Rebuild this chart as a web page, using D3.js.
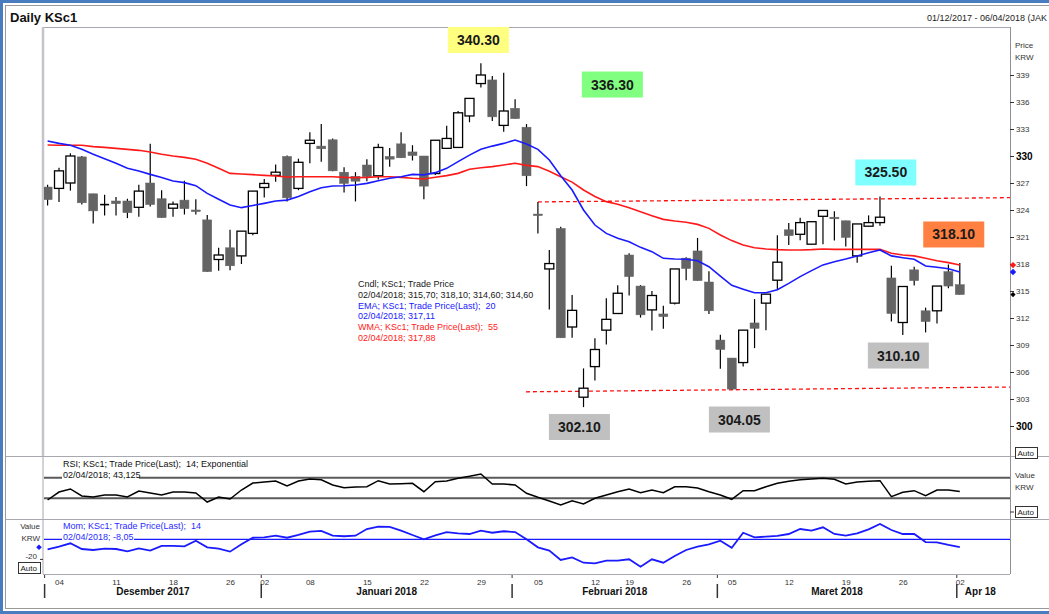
<!DOCTYPE html>
<html><head><meta charset="utf-8">
<script src="https://cdn.jsdelivr.net/npm/d3@7"></script>
<style>body{margin:0;background:#fff}svg{display:block;font-family:"Liberation Sans",Arial,sans-serif}svg text{white-space:pre}</style>
</head><body><svg id="c" width="1049" height="614"></svg>
<script>
// ---------- DATA ----------
const dates = [
"2017-12-01","2017-12-04","2017-12-05","2017-12-06","2017-12-07","2017-12-08","2017-12-11","2017-12-12","2017-12-13","2017-12-14","2017-12-15","2017-12-18","2017-12-19","2017-12-20","2017-12-21","2017-12-22","2017-12-26","2017-12-27","2017-12-28",
"2018-01-02","2018-01-03","2018-01-04","2018-01-05","2018-01-08","2018-01-09","2018-01-10","2018-01-11","2018-01-12","2018-01-15","2018-01-16","2018-01-17","2018-01-18","2018-01-19","2018-01-22","2018-01-23","2018-01-24","2018-01-25","2018-01-26","2018-01-29","2018-01-30","2018-01-31",
"2018-02-01","2018-02-02","2018-02-05","2018-02-06","2018-02-07","2018-02-08","2018-02-09","2018-02-12","2018-02-13","2018-02-14","2018-02-19","2018-02-20","2018-02-21","2018-02-22","2018-02-23","2018-02-26","2018-02-27","2018-02-28",
"2018-03-02","2018-03-05","2018-03-06","2018-03-07","2018-03-08","2018-03-09","2018-03-12","2018-03-13","2018-03-14","2018-03-15","2018-03-16","2018-03-19","2018-03-20","2018-03-21","2018-03-22","2018-03-23","2018-03-26","2018-03-27","2018-03-28","2018-03-29","2018-03-30",
"2018-04-02"];
const open = [326.55,326.4,327.0,329.9,325.8,324.62,325.0,325.0,324.3,327.0,325.25,324.2,325.1,324.0,322.9,318.5,319.8,318.9,321.4,326.5,327.85,329.95,326.4,331.4,331.1,331.8,328.2,327.75,329.0,327.8,329.95,331.35,330.45,330.0,328.05,330.85,330.95,334.45,338.05,338.45,333.4,335.3,333.2,323.55,317.45,321.95,311.0,303.2,306.6,310.65,312.5,319.0,315.55,312.9,312.45,313.65,318.65,319.45,316.0,309.55,307.55,307.05,311.45,313.65,316.2,321.8,321.3,320.2,323.3,323.2,322.8,318.9,322.2,322.6,316.45,311.5,317.35,312.8,312.8,317.15,315.7];
const high = [326.8,328.7,330.3,330.0,325.8,325.7,325.45,325.25,326.8,331.35,326.2,324.95,327.25,325.2,323.45,319.8,321.8,321.65,326.1,327.45,329.05,330.05,329.7,332.65,333.55,331.95,328.75,328.2,329.65,331.35,330.9,332.65,331.2,330.0,331.75,333.35,335.0,336.4,340.3,338.9,339.25,336.3,333.55,324.9,319.55,322.15,314.55,306.4,309.75,314.2,315.65,319.2,315.65,315.0,313.35,317.45,318.75,320.9,317.2,310.15,307.55,310.65,314.1,314.65,321.2,322.55,323.15,322.7,323.95,323.85,322.8,322.45,323.4,325.5,317.8,315.5,317.7,313.15,315.55,317.95,318.1];
const low = [324.5,324.9,326.15,324.6,322.5,323.4,323.4,323.1,323.25,324.4,323.15,323.25,323.5,323.5,317.15,317.25,317.3,318.0,321.2,325.4,327.15,324.95,326.2,329.2,329.35,328.3,325.95,324.95,327.2,327.4,328.8,329.8,329.5,325.2,327.9,330.85,330.95,333.75,337.6,333.9,332.7,334.15,326.65,321.4,312.95,309.8,309.8,302.1,305.05,309.05,312.5,314.5,312.05,310.6,310.8,313.5,316.2,316.15,312.45,306.35,304.05,306.6,308.65,310.65,315.2,320.1,320.65,320.2,320.2,320.6,319.95,318.15,322.2,322.25,311.6,310.1,315.6,310.4,311.4,315.3,314.6];
const close = [325.15,328.35,330.0,324.8,323.9,324.6,324.7,323.7,326.1,324.6,323.15,324.65,324.15,323.85,317.15,319.0,317.8,321.65,326.1,326.95,328.2,325.35,329.3,331.75,330.8,328.35,326.95,327.2,327.7,330.95,329.65,329.8,330.05,326.65,331.75,331.95,334.8,336.4,339.0,334.35,335.0,334.15,327.8,323.45,318.05,309.8,312.85,304.2,308.5,311.85,314.75,316.6,312.35,314.5,312.15,317.45,317.5,316.15,312.8,308.5,304.1,310.65,310.85,314.65,318.2,321.15,322.6,322.7,323.95,323.05,320.95,322.45,322.6,323.2,312.5,315.5,316.15,311.6,315.55,315.55,314.6];
const ema20 = [331.67,331.4,331.2,330.74,330.2,329.7,329.2,328.63,328.33,327.96,327.6,327.22,327.04,326.7,325.85,325.2,324.56,324.26,324.5,324.74,325.0,325.1,325.5,326.04,326.48,326.67,326.7,326.78,326.96,327.26,327.52,327.7,327.96,327.9,328.15,328.63,329.37,330.1,330.74,331.1,331.4,331.78,331.33,330.74,329.56,327.8,326.22,324.0,322.33,321.4,320.85,320.48,319.85,319.37,318.63,318.56,318.52,318.37,317.7,316.66,315.63,315.2,314.8,314.8,315.15,315.85,316.6,317.26,317.9,318.26,318.56,318.9,319.26,319.56,318.9,318.7,318.52,317.78,317.63,317.48,317.11];
const wma55 = [331.22,331.2,331.2,331.2,331.04,330.96,330.85,330.74,330.63,330.45,330.2,330.0,329.85,329.63,329.2,328.63,328.07,328.0,327.93,327.85,327.78,327.67,327.7,327.7,327.7,327.7,327.63,327.6,327.63,327.7,327.7,327.63,327.52,327.45,327.63,327.82,328.07,328.52,328.7,328.82,329.0,329.2,328.96,328.82,328.3,327.7,327.1,326.22,325.5,324.93,324.63,324.26,323.81,323.37,322.96,322.78,322.63,322.4,321.96,321.22,320.6,320.1,319.81,319.67,319.6,319.56,319.56,319.6,319.67,319.63,319.63,319.63,319.63,319.63,319.19,319.0,318.9,318.63,318.37,318.15,317.88];
const rsi14 = [26.6,42.1,48,34.4,32.4,36.3,36.3,32.4,44,40.2,36.3,42.1,42.1,40.2,22.7,32.4,28.5,46,59.6,61.6,63.5,53.8,63.5,67.4,66,55.7,50.5,51.8,52.4,64.1,57.7,58.3,59,42.7,62.1,63.5,68.7,72.6,77.1,57.7,57.7,55.7,39.6,31.8,24.7,16.9,25.2,18.8,29.9,36.3,42.7,48,40.8,46,40.8,52.4,52.4,49.9,42.7,36.3,28,44.7,44.7,52.4,59,62.9,66,67.4,68.7,66.8,57.7,61.6,62.9,64.1,33,41.6,44.7,35,46,46,43.125];
const mom14 = [-10.2,-7.5,-4.1,-9.9,-10.9,-9.6,-9.9,-12.3,-9.2,-11.6,-6.8,-6.8,-7.2,-1.4,-8.2,-9.6,-12.6,-5.1,1.6,2,3.7,1.6,4.4,7.8,8.5,3.7,3.1,3.7,10.5,12.9,12.6,8.8,4.4,0,4.1,7.4,6.1,5.4,8.8,6.7,8.2,7.4,0,-8.2,-11.6,-21.1,-18.4,-23.9,-24.5,-21.8,-21.8,-20.4,-28,-20.4,-23.9,-17,-10.9,-7.5,-5.1,-1.4,-8.6,6.7,2,2.7,3.4,5.4,10.5,8.8,12.2,5.4,3.7,6.1,10.2,15.6,9.5,5.4,5.4,-2.8,-3.1,-5.8,-8.05];
const priceTicks = [300,303,306,309,312,315,318,321,324,327,330,333,336,339];
const boldTicks = [300,330];
const momTicks = [-20];
const dayTickDates = ["2017-12-04","2017-12-11","2017-12-18","2017-12-26","2018-01-02","2018-01-08","2018-01-15","2018-01-22","2018-01-29","2018-02-05","2018-02-12","2018-02-19","2018-02-26","2018-03-05","2018-03-12","2018-03-19","2018-03-26","2018-04-02"];
const monthStarts = ["2017-12-01","2018-01-02","2018-02-01","2018-03-02","2018-04-02"];
const monthLabels = ["Desember 2017","Januari 2018","Februari 2018","Maret 2018","Apr 18"];
// annotation boxes: text, fill, anchor index, anchor price
const annText = ["340.30","336.30","325.50","318.10","310.10","302.10","304.05"];
const annFill = ["#ffff80","#80ff80","#80ffff","#ff8040","#c0c0c0","#c0c0c0","#c0c0c0"];
const annIdx = [37.78,49.53,73.51,79.47,74.61,46.64,60.67];
const annPrice = [342.89,337.94,328.17,321.28,307.83,299.89,300.72];
// dashed trend lines [startIndex, startPrice, endIndex, endPrice]
const resistance = [43, 324.9, 84.4, 325.37];
const support = [41.95, 303.8, 84.4, 304.33];
const legendLines = ["Cndl; KSc1; Trade Price","02/04/2018; 315,70; 318,10; 314,60; 314,60","EMA; KSc1; Trade Price(Last);  20","02/04/2018; 317,11","WMA; KSc1; Trade Price(Last);  55","02/04/2018; 317,88"];
const legendColors = ["#202020","#202020","#2020ff","#2020ff","#ff2020","#ff2020"];

// ---------- DRAW ----------
const svg = d3.select("#c");
const L = 43, R = 1010, TOP = 27, MB = 456, RB = 519, BB = 574;
const xi = d3.scaleLinear().domain([0, dates.length - 1]).range([47.6, 959.8]);
const xd = d => xi(dates.indexOf(d));
const yP = d3.scaleLinear().domain([300, 339]).range([426, 75]);
const yR = d3.scaleLinear().domain([0, 100]).range([513.7, 462.2]);
const yM = d3.scaleLinear().domain([-20, 0]).range([558.9, 539.3]);

svg.append("rect").attr("width", 1049).attr("height", 614).attr("fill", "#fff");
// frame
svg.append("rect").attr("x", 1.5).attr("y", 1.5).attr("width", 1080).attr("height", 611)
  .attr("fill", "none").attr("stroke", "#4a7cc0").attr("stroke-width", 3);
svg.append("rect").attr("x", 5.5).attr("y", 5.5).attr("width", 1080).attr("height", 603)
  .attr("fill", "none").attr("stroke", "#9a9a9a").attr("stroke-width", 1);

svg.append("text").attr("x", 10).attr("y", 22).attr("font-size", 13).attr("font-weight", "bold").attr("fill", "#111").text("Daily KSc1");
svg.append("text").attr("x", 1047).attr("y", 21).attr("text-anchor", "end").attr("font-size", 9).attr("fill", "#222").text("01/12/2017 - 06/04/2018 (JAK");

// panel lines
const g = svg.append("g");
g.append("line").attr("x1", L).attr("x2", R).attr("y1", TOP + .5).attr("y2", TOP + .5).attr("stroke", "#a8a8b0");
[MB, RB].forEach(y => g.append("line").attr("x1", 6).attr("x2", 1049).attr("y1", y + .5).attr("y2", y + .5).attr("stroke", "#a8a8b0"));
g.append("line").attr("x1", L).attr("x2", R).attr("y1", BB + .5).attr("y2", BB + .5).attr("stroke", "#a8a8b0");
g.append("line").attr("x1", L).attr("x2", L).attr("y1", TOP).attr("y2", MB).attr("stroke", "#c4c4cc").attr("stroke-width", 2.5);
g.append("line").attr("x1", L).attr("x2", L).attr("y1", MB).attr("y2", BB).attr("stroke", "#a8a8b0").attr("stroke-width", 1);
g.append("line").attr("x1", R + .5).attr("x2", R + .5).attr("y1", TOP).attr("y2", BB).attr("stroke", "#909098");

svg.append("clipPath").attr("id", "clipMain").append("rect").attr("x", L + 1).attr("y", TOP).attr("width", R - L - 1).attr("height", MB - TOP);
svg.append("clipPath").attr("id", "clipLow").append("rect").attr("x", L + 1).attr("y", MB).attr("width", R - L - 1).attr("height", BB - MB);

const main = svg.append("g").attr("clip-path", "url(#clipMain)");

// trend lines
[resistance, support].forEach(t => {
  main.append("line").attr("x1", xi(t[0])).attr("y1", yP(t[1])).attr("x2", xi(t[2])).attr("y2", yP(t[3]))
    .attr("stroke", "#ff1010").attr("stroke-width", 1.3).attr("stroke-dasharray", "4,3");
});

// candles
const idx = d3.range(dates.length);
const cw = 9;
main.selectAll("line.wick").data(idx).join("line").attr("class", "wick")
  .attr("x1", i => xi(i)).attr("x2", i => xi(i)).attr("y1", i => yP(high[i])).attr("y2", i => yP(low[i]))
  .attr("stroke", "#000").attr("stroke-width", 1.2);
main.selectAll("rect.body").data(idx).join("rect").attr("class", "body")
  .attr("x", i => xi(i) - cw / 2).attr("width", cw)
  .attr("y", i => yP(Math.max(open[i], close[i])))
  .attr("height", i => Math.max(1.6, Math.abs(yP(open[i]) - yP(close[i]))))
  .attr("fill", i => close[i] >= open[i] ? "#fff" : "#646464")
  .attr("stroke", i => close[i] >= open[i] ? "#000" : "#646464")
  .attr("stroke-width", i => close[i] >= open[i] ? 1.3 : 0.5)
  .attr("display", i => Math.abs(open[i] - close[i]) < 0.05 ? "none" : null);
main.selectAll("line.doji").data(idx.filter(i => Math.abs(open[i] - close[i]) < 0.05)).join("line")
  .attr("x1", i => xi(i) - cw / 2).attr("x2", i => xi(i) + cw / 2)
  .attr("y1", i => yP(close[i])).attr("y2", i => yP(close[i])).attr("stroke", "#000").attr("stroke-width", 1.6);

// moving averages
const lineP = d3.line().x((d, i) => xi(i)).y(d => yP(d));
main.append("path").datum(wma55).attr("d", lineP).attr("fill", "none").attr("stroke", "#ff1a1a").attr("stroke-width", 1.6);
main.append("path").datum(ema20).attr("d", lineP).attr("fill", "none").attr("stroke", "#1a1aff").attr("stroke-width", 1.6);

// annotations
annText.forEach((t, k) => {
  const cx = xi(annIdx[k]), cy = yP(annPrice[k]);
  svg.append("rect").attr("x", cx - 30.5).attr("y", cy - 13).attr("width", 61).attr("height", 26).attr("fill", annFill[k]);
  svg.append("text").attr("x", cx).attr("y", cy + 5).attr("text-anchor", "middle").attr("font-size", 14)
    .attr("font-weight", "bold").attr("fill", "#1a1a1a").text(t);
});

// legend
legendLines.forEach((t, k) => {
  svg.append("text").attr("x", 358).attr("y", 287 + k * 10.8).attr("font-size", 9).attr("fill", legendColors[k]).text(t);
});

// price axis
const ax = svg.append("g").attr("transform", `translate(${R},0)`)
  .call(d3.axisRight(yP).tickValues(priceTicks).tickSize(4).tickPadding(2).tickFormat(d3.format("d")));
ax.select(".domain").remove();
ax.selectAll(".tick line").attr("stroke", "#333");
ax.selectAll(".tick text").attr("font-family", "Liberation Sans, Arial").attr("font-size", 8).attr("fill", "#333");
ax.selectAll(".tick text").filter(d => boldTicks.includes(d)).attr("font-size", 10).attr("font-weight", "bold").attr("fill", "#000");
svg.append("text").attr("x", 1015).attr("y", 48).attr("font-size", 8).attr("fill", "#333").text("Price");
svg.append("text").attr("x", 1015).attr("y", 60).attr("font-size", 8).attr("fill", "#333").text("KRW");

function diamond(x, y, c, s) {
  svg.append("path").attr("d", `M${x},${y - s}L${x + s},${y}L${x},${y + s}L${x - s},${y}Z`).attr("fill", c);
}
const last = dates.length - 1;
diamond(R + 3, yP(wma55[last]), "#ff1a1a", 3.2);
diamond(R + 3, yP(ema20[last]), "#1a1aff", 3.2);
diamond(R + 3, yP(close[last]), "#000", 2.6);

function autoBox(x, y) {
  svg.append("rect").attr("x", x + .5).attr("y", y + .5).attr("width", 22).attr("height", 11).attr("fill", "#fff").attr("stroke", "#333");
  svg.append("text").attr("x", x + 2.5).attr("y", y + 9).attr("font-size", 8).attr("fill", "#222").text("Auto");
}
autoBox(1015, 447);

// RSI panel
const low1 = svg.append("g").attr("clip-path", "url(#clipLow)");
[70, 30].forEach(v => low1.append("line").attr("x1", L).attr("x2", R).attr("y1", yR(v)).attr("y2", yR(v)).attr("stroke", "#5a5a5a").attr("stroke-width", 2));
const lineR = d3.line().x((d, i) => xi(i)).y(d => yR(d));
low1.append("path").datum(rsi14).attr("d", lineR).attr("fill", "none").attr("stroke", "#000").attr("stroke-width", 1.5);
svg.append("rect").attr("x", 62).attr("y", 470).attr("width", 77).attr("height", 10).attr("fill", "#fff");
svg.append("text").attr("x", 63).attr("y", 467).attr("font-size", 9).attr("fill", "#111").text("RSI; KSc1; Trade Price(Last);  14; Exponential");
svg.append("text").attr("x", 63).attr("y", 478).attr("font-size", 9).attr("fill", "#111").text("02/04/2018; 43,125");
svg.append("text").attr("x", 1015).attr("y", 478).attr("font-size", 8).attr("fill", "#333").text("Value");
svg.append("text").attr("x", 1015).attr("y", 490).attr("font-size", 8).attr("fill", "#333").text("KRW");
svg.append("line").attr("x1", R).attr("x2", R + 4).attr("y1", 512).attr("y2", 512).attr("stroke", "#333");
autoBox(1015, 506);

// Momentum panel
low1.append("line").attr("x1", L).attr("x2", R).attr("y1", yM(0)).attr("y2", yM(0)).attr("stroke", "#1a1aff").attr("stroke-width", 1.2);
const lineM = d3.line().x((d, i) => xi(i)).y(d => yM(d));
low1.append("path").datum(mom14).attr("d", lineM).attr("fill", "none").attr("stroke", "#1a1aff").attr("stroke-width", 1.8);
svg.append("rect").attr("x", 62).attr("y", 531).attr("width", 72).attr("height", 10).attr("fill", "#fff");
svg.append("text").attr("x", 63).attr("y", 529).attr("font-size", 9).attr("fill", "#2a2aff").text("Mom; KSc1; Trade Price(Last);  14");
svg.append("text").attr("x", 63).attr("y", 540).attr("font-size", 9).attr("fill", "#2a2aff").text("02/04/2018; -8,05");
svg.append("text").attr("x", 40).attr("y", 529).attr("text-anchor", "end").attr("font-size", 8).attr("fill", "#333").text("Value");
svg.append("text").attr("x", 40).attr("y", 541).attr("text-anchor", "end").attr("font-size", 8).attr("fill", "#333").text("KRW");
diamond(39, yM(mom14[last]), "#1a1aff", 2.8);
const axM = svg.append("g").attr("transform", `translate(${L},0)`)
  .call(d3.axisLeft(yM).tickValues(momTicks).tickSize(3).tickPadding(3).tickFormat(d => String(d)));
axM.select(".domain").remove();
axM.selectAll(".tick line").attr("stroke", "#333");
axM.selectAll(".tick text").attr("font-family", "Liberation Sans, Arial").attr("font-size", 8).attr("fill", "#333").attr("dy", "-0.1em");
autoBox(18, 562);

// bottom date axis
const axB = svg.append("g").attr("transform", `translate(0,${BB + 1})`)
  .call(d3.axisBottom(xi).tickValues(dayTickDates.map(d => dates.indexOf(d))).tickSize(0).tickPadding(4)
    .tickFormat(i => dates[i].slice(8)));
axB.select(".domain").remove();
axB.selectAll(".tick text").attr("font-family", "Liberation Sans, Arial").attr("font-size", 8).attr("fill", "#333");
const sepX = monthStarts.map(d => xd(d) - 3);
sepX.forEach(x => {
  svg.append("line").attr("x1", x).attr("x2", x).attr("y1", 584).attr("y2", 598).attr("stroke", "#333").attr("stroke-width", 1.5);
  svg.append("line").attr("x1", x).attr("x2", x).attr("y1", BB + 1).attr("y2", BB + 4).attr("stroke", "#333").attr("stroke-width", 1);
});
monthLabels.forEach((t, k) => {
  const isLast = k === monthLabels.length - 1;
  svg.append("text").attr("x", isLast ? sepX[k] + 8 : (sepX[k] + sepX[k + 1]) / 2).attr("y", 595)
    .attr("text-anchor", isLast ? "start" : "middle").attr("font-size", 10).attr("font-weight", "bold").attr("fill", "#111").text(t);
});
</script></body></html>
